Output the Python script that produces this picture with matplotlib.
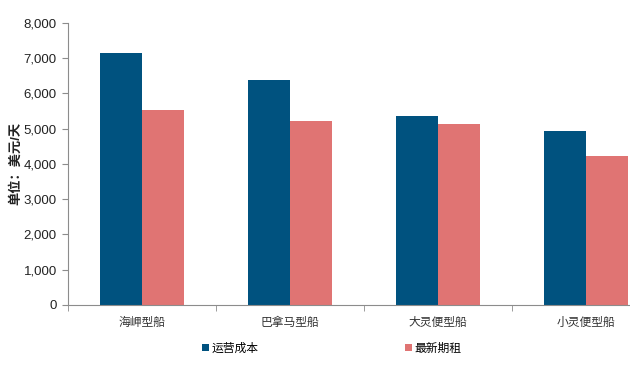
import numpy as np
import matplotlib
matplotlib.use("Agg")
from matplotlib import pyplot as plt

plt.rcParams['font.family'] = ['Liberation Sans', 'Noto Sans CJK SC', 'DejaVu Sans']

categories = ['海岬型船', '巴拿马型船', '大灵便型船', '小灵便型船']
operating_cost = [7150, 6380, 5360, 4930]
latest_charter = [5530, 5220, 5130, 4220]
series_names = ['运营成本', '最新期租']
yticks = [0, 1000, 2000, 3000, 4000, 5000, 6000, 7000, 8000]

BLUE = '#00527F'
RED = '#E07473'
GRAY = '#8C8C8C'

fig = plt.figure(figsize=(6.3, 3.75), dpi=100)
# the original chart is cut off on the right, so the axes run past the figure edge
ax = fig.add_axes([0.108, 0.187, 0.94, 0.752])

x = np.arange(len(categories))
w = 0.284
ax.bar(x - w / 2, operating_cost, width=w, color=BLUE, label=series_names[0])
ax.bar(x + w / 2, latest_charter, width=w, color=RED, label=series_names[1])

ax.set_xlim(-0.5, len(categories) - 0.5)
ax.set_ylim(0, 8000)
ax.set_yticks(yticks)
ax.set_yticklabels([f'{v:,}' for v in yticks], fontsize=9.5)
ax.set_xticks(x)
ax.set_xticklabels(categories, fontsize=8.5, color='#333333')
ax.tick_params(axis='x', length=0, pad=9)
ax.set_xticks(np.arange(len(categories) + 1) - 0.5, minor=True)
ax.tick_params(axis='x', which='minor', length=4, color=GRAY)
ax.tick_params(axis='y', length=4, color=GRAY, pad=4, labelcolor='#222222')

for s in ['top', 'right']:
    ax.spines[s].set_visible(False)
for s in ['left', 'bottom']:
    ax.spines[s].set_color(GRAY)
    ax.spines[s].set_linewidth(0.8)

ax.set_ylabel('单位：美元/天', fontsize=9.5, color='#222222', fontweight='bold')
ax.yaxis.set_label_coords(-0.078, 0.5)

fig.legend(loc='center', bbox_to_anchor=(0.527, 0.07), ncol=2, frameon=False,
           fontsize=8.5, handlelength=0.6, handleheight=0.6, handletextpad=0.2,
           columnspacing=12.4)

fig.savefig('out.png', dpi=100)
